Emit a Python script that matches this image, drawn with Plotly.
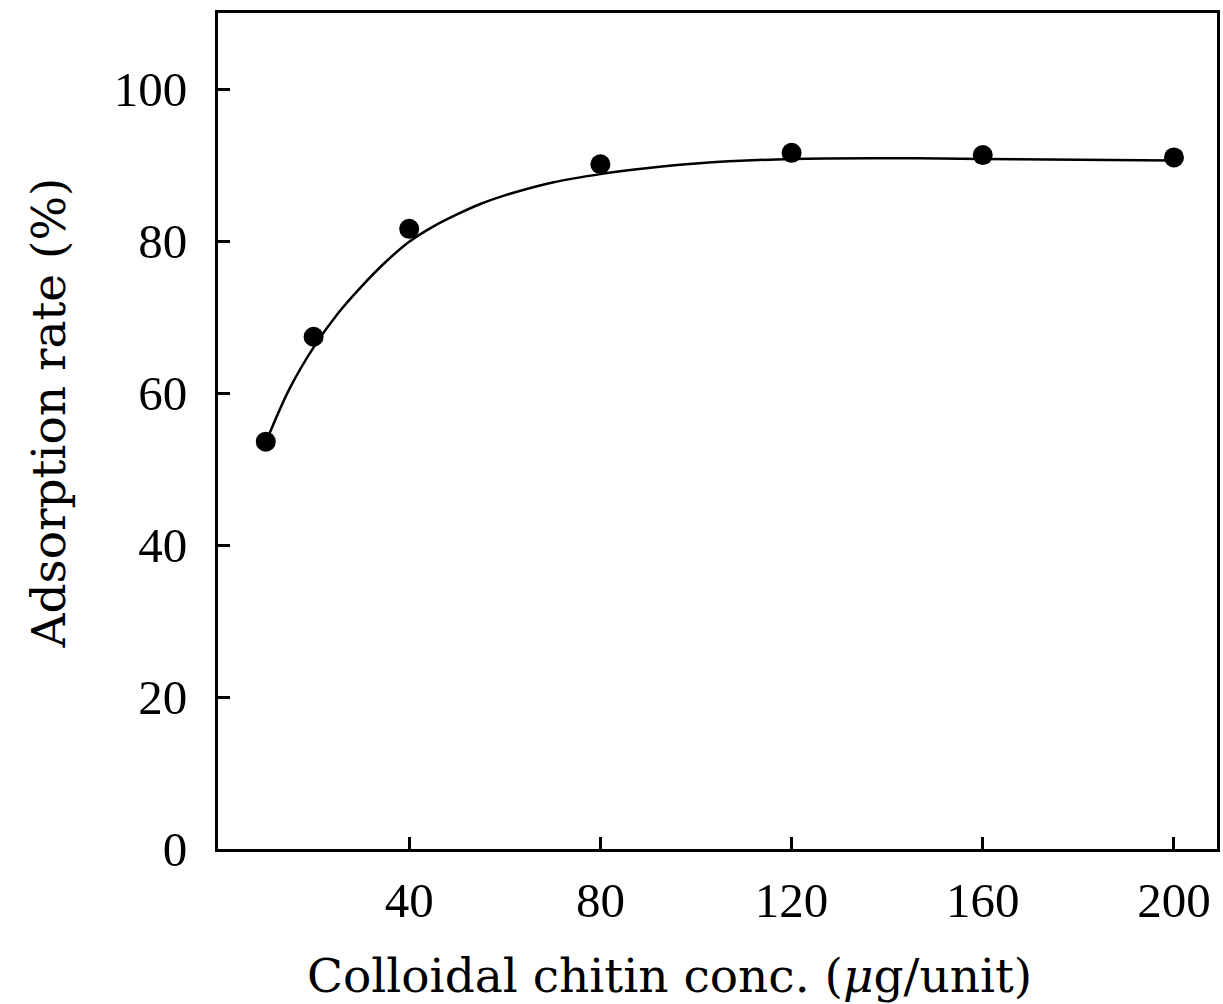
import plotly.graph_objects as go

# Measured points
conc = [10, 20, 40, 80, 120, 160, 200]
adsorption = [53.6, 67.4, 81.6, 90.1, 91.6, 91.3, 91.0]

# Fitted curve
curve_x = [10, 15, 20, 25, 30, 35, 40, 45, 50, 55, 60, 70, 80, 90, 100, 120, 140, 160, 200]
curve_y = [53.5, 60.6, 66.0, 70.4, 74.0, 77.2, 79.9, 81.9, 83.5, 84.9, 86.0, 87.7, 88.8,
           89.6, 90.2, 90.8, 90.9, 90.8, 90.6]

x_ticks = [40, 80, 120, 160, 200]
y_ticks = [0, 20, 40, 60, 80, 100]

FONT = "Liberation Serif"
TFONT = "DejaVu Serif"

fig = go.Figure()
fig.add_trace(go.Scatter(x=curve_x, y=curve_y, mode="lines",
                         line=dict(color="black", width=2.5, shape="spline", smoothing=1.0),
                         showlegend=False, hoverinfo="skip"))
fig.add_trace(go.Scatter(x=conc, y=adsorption, mode="markers",
                         marker=dict(color="black", size=20, symbol="circle"),
                         showlegend=False))

fig.update_layout(
    width=1223, height=1004,
    margin=dict(l=218, r=3, t=13, b=155),
    paper_bgcolor="white", plot_bgcolor="white",
    font=dict(family=FONT, color="black", size=48),
)
fig.update_xaxes(range=[0, 209], tickmode="array", tickvals=x_ticks,
                 ticktext=[str(v) for v in x_ticks],
                 ticks="inside", ticklen=12, tickwidth=3, tickcolor="black",
                 showline=True, linewidth=3, linecolor="black", mirror=True,
                 showgrid=False, zeroline=False,
                 tickfont=dict(family=FONT, size=49), ticklabelstandoff=6)
fig.update_yaxes(range=[0, 110], tickmode="array", tickvals=y_ticks,
                 ticktext=[str(v) for v in y_ticks],
                 ticks="inside", ticklen=12, tickwidth=3, tickcolor="black",
                 showline=True, linewidth=3, linecolor="black", mirror=True,
                 showgrid=False, zeroline=False,
                 tickfont=dict(family=FONT, size=49), ticklabelstandoff=18)

fig.add_annotation(text="Colloidal chitin conc. (<i>μ</i>g/unit)", xref="paper", yref="paper",
                   x=(671 - 218) / (1220 - 218), y=-(975 - 849) / (849 - 13),
                   showarrow=False, xanchor="center", yanchor="middle",
                   font=dict(family=TFONT, size=47))
fig.add_annotation(text="Adsorption rate (%)", xref="paper", yref="paper",
                   x=-(218 - 47) / (1220 - 218), y=(849 - 413) / (849 - 13),
                   showarrow=False, xanchor="center", yanchor="middle", textangle=-90,
                   font=dict(family=TFONT, size=47))

fig.write_html("out.html")
